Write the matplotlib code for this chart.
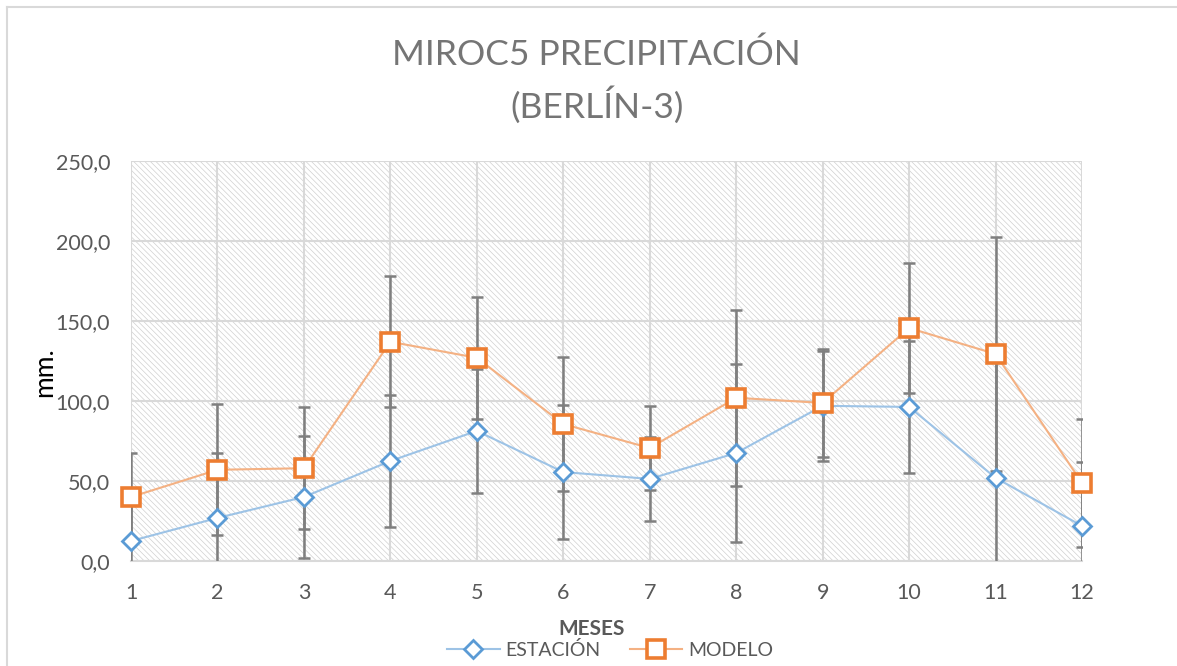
import numpy as np
import matplotlib
matplotlib.use("Agg")
import matplotlib.pyplot as plt
from matplotlib.patches import Rectangle
from matplotlib.lines import Line2D
from matplotlib.ticker import FuncFormatter

# data
meses = [1, 2, 3, 4, 5, 6, 7, 8, 9, 10, 11, 12]
estacion = [12.5, 26.9, 40.0, 62.5, 81.3, 55.6, 51.3, 67.5, 97.0, 96.3, 52.0, 21.9]
estacion_err = [27.5, 40.6, 38.0, 41.0, 39.0, 42.0, 26.0, 55.5, 34.5, 41.0, 73.0, 40.0]
modelo = [40.0, 57.0, 58.0, 137.0, 127.0, 85.6, 70.6, 102.0, 98.8, 145.6, 129.4, 48.8]
modelo_err = [27.5, 41.0, 38.3, 41.0, 38.0, 42.0, 26.0, 55.0, 34.0, 40.6, 73.0, 40.0]
yticks = [0, 50, 100, 150, 200, 250]

azul = '#5b9bd5'
azul_claro = '#9dc3e6'
naranja = '#ed7d31'
naranja_claro = '#f4b183'
gris_texto = '#595959'
gris_grid = '#d9d9d9'

plt.rcParams['font.family'] = ['Lato', 'DejaVu Sans']
plt.rcParams['hatch.linewidth'] = 0.5
plt.rcParams['hatch.color'] = '#d0d0d0'

fig = plt.figure(figsize=(11.77, 6.66), dpi=100)
ax = fig.add_axes([131/1177, 1-561/666, (1082-131)/1177, 400/666])

# hatched background
ax.add_patch(Rectangle((0, 0), 1, 1, transform=ax.transAxes, facecolor='white',
                       edgecolor='#d0d0d0', hatch='\\' * 6, linewidth=0, zorder=0))

ax.set_xlim(1, 12)
ax.set_ylim(0, 250)
ax.set_xticks(meses)
ax.set_yticks(yticks)
ax.yaxis.set_major_formatter(FuncFormatter(lambda v, p: f"{v:.1f}".replace('.', ',')))
ax.grid(True, color=gris_grid, linewidth=1.5, zorder=1)
ax.set_axisbelow(True)
for s in ['top', 'right', 'left']:
    ax.spines[s].set_visible(False)
ax.spines['bottom'].set_color(gris_grid)
ax.spines['bottom'].set_linewidth(1.5)
ax.tick_params(length=0, labelsize=15.5, labelcolor=gris_texto)
ax.tick_params(axis='y', pad=15)
ax.tick_params(axis='x', pad=16)

# error bars
ax.errorbar(meses, estacion, yerr=estacion_err, fmt='none', ecolor='#7f7f7f',
            elinewidth=1.8, capsize=4, capthick=1.8, zorder=3)
ax.errorbar(meses, modelo, yerr=modelo_err, fmt='none', ecolor='#7f7f7f',
            elinewidth=1.8, capsize=4, capthick=1.8, zorder=3)

# lines
ax.plot(meses, estacion, color=azul_claro, linewidth=1.5, zorder=4)
ax.plot(meses, modelo, color=naranja_claro, linewidth=1.5, zorder=4)
ax.plot(meses, estacion, linestyle='none', marker='D', markersize=9.5,
        markerfacecolor='white', markeredgecolor=azul, markeredgewidth=2, zorder=5, clip_on=False)
ax.plot(meses, modelo, linestyle='none', marker='s', markersize=12.5,
        markerfacecolor='white', markeredgecolor=naranja, markeredgewidth=2.6, zorder=5, clip_on=False)

# titles
fig.text(0.507, 1-55/666, 'MIROC5 PRECIPITACIÓN', ha='center', va='center',
         fontsize=25.5, color='#757575')
fig.text(0.507, 1-105/666, '(BERLÍN-3)', ha='center', va='center',
         fontsize=25.5, color='#757575')
fig.text(45/1177, 1-372/666, 'mm.', rotation=90, ha='center', va='center',
         fontsize=19, color='black')
fig.text(592/1177, 1-629/666, 'MESES', ha='center', va='center',
         fontsize=15, fontweight='bold', color=gris_texto)

# legend
handles = [
    Line2D([], [], color=azul_claro, linewidth=1.5, marker='D', markersize=9.5,
           markerfacecolor='white', markeredgecolor=azul, markeredgewidth=2),
    Line2D([], [], color=naranja_claro, linewidth=1.5, marker='s', markersize=12.5,
           markerfacecolor='white', markeredgecolor=naranja, markeredgewidth=2.6),
]
fig.legend(handles, ['ESTACIÓN', 'MODELO'], loc='center', bbox_to_anchor=(610/1177, 1-650/666),
           ncol=2, frameon=False, fontsize=14, labelcolor=gris_texto,
           handlelength=2.7, handletextpad=0.3, columnspacing=1.5, borderpad=0)

# chart border
fig.add_artist(Line2D([7/1177, 1], [1-7/666, 1-7/666], transform=fig.transFigure,
                      color=gris_grid, linewidth=1.5))
fig.add_artist(Line2D([7/1177, 7/1177], [0, 1-7/666], transform=fig.transFigure,
                      color=gris_grid, linewidth=1.5))

fig.savefig('out.png', dpi=100)
